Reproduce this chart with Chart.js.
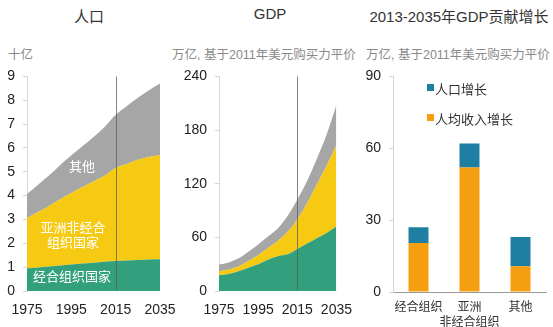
<!DOCTYPE html>
<html><head><meta charset="utf-8">
<script src="https://cdn.jsdelivr.net/npm/chart.js@4"></script>
<style>
html,body{margin:0;padding:0;background:#fff;width:553px;height:327px;overflow:hidden;position:relative;font-family:"Liberation Sans","Noto Sans CJK SC",sans-serif;}
.box{position:absolute;}
.t{position:absolute;white-space:nowrap;}
.title{font-size:15px;color:#333;transform:translateX(-50%);}
.sub{font-size:12.5px;color:#8a8a8a;}
.lab{font-size:13px;color:#fff;text-align:center;transform:translateX(-50%);line-height:15px;}
.lg{font-size:13px;color:#333;}
.sq{position:absolute;width:7px;height:7px;}
</style></head><body>
<div class="t title" style="left:89px;top:5px;">人口</div>
<div class="t title" style="left:270px;top:5px;">GDP</div>
<div class="t title" style="left:459px;top:5px;">2013-2035年GDP贡献增长</div>
<div class="t sub" style="left:8px;top:44px;">十亿</div>
<div class="t sub" style="left:172px;top:44px;">万亿, 基于2011年美元购买力平价</div>
<div class="t sub" style="left:366px;top:44px;">万亿, 基于2011年美元购买力平价</div>

<div class="box" style="left:0;top:60px;width:180px;height:267px;"><canvas id="c1"></canvas></div>
<div class="box" style="left:180px;top:60px;width:175px;height:267px;"><canvas id="c2"></canvas></div>
<div class="box" style="left:355px;top:60px;width:198px;height:267px;"><canvas id="c3"></canvas></div>

<div class="t lab" style="left:82px;top:159px;">其他</div>
<div class="t lab" style="left:73px;top:220px;">亚洲非经合<br>组织国家</div>
<div class="t lab" style="left:72px;top:269px;">经合组织国家</div>

<div class="sq" style="left:427px;top:84px;background:#1f7fa3;"></div>
<div class="t lg" style="left:435px;top:79px;">人口增长</div>
<div class="sq" style="left:427px;top:114px;background:#f59f10;"></div>
<div class="t lg" style="left:435px;top:109px;">人均收入增长</div>

<script>
// ---- data ----
const years = [1975,1980,1985,1990,1995,2000,2005,2010,2015,2020,2025,2030,2035];
const tickYears = [1975,1995,2015,2035];
const markYear = 2015;
const popOECD  = [0.95,0.99,1.03,1.07,1.11,1.15,1.19,1.23,1.26,1.28,1.30,1.32,1.33];
const popAsia  = [2.10,2.32,2.54,2.78,3.00,3.20,3.40,3.60,3.90,4.05,4.20,4.30,4.37];
const popOther = [1.02,1.15,1.28,1.43,1.58,1.72,1.87,2.05,2.23,2.42,2.60,2.80,3.00];
const gdpOECD  = [17.5,19,22,26,30,35,39,41,47,53,59,65,72];
const gdpAsia  = [4.5,5,5.5,7.5,10,13,17,25,33,45,60,75,91];
const gdpOther = [7.5,8,9,10.5,12,13,14,18,22,25,29,35,45];
const regions = ["经合组织", ["亚洲","非经合组织"], "其他"];
const popGrowth = [6.5, 10, 12.3];
const incomeGrowth = [20.5, 52, 10.7];

const C_GREEN='#33a07d', C_YELLOW='#f6c913', C_GREY='#a6a6a6', C_BLUE='#1f7fa3', C_ORANGE='#f59f10';
const FONT = {family:'"Liberation Sans","Noto Sans CJK SC",sans-serif', size:14};
Chart.defaults.color = '#222';

const markLine = {
  id:'markLine',
  afterDatasetsDraw(chart){
    const x = chart.scales.x.getPixelForValue(markYear);
    const a = chart.chartArea, ctx = chart.ctx;
    ctx.save(); ctx.strokeStyle='rgba(90,90,90,0.75)'; ctx.lineWidth=1;
    ctx.beginPath(); ctx.moveTo(Math.round(x)+0.5,a.top); ctx.lineTo(Math.round(x)+0.5,a.bottom); ctx.stroke(); ctx.restore();
  }
};

function area(label, data, color, fill){
  return {label, data: years.map((y,i)=>({x:y,y:data[i]})), backgroundColor:color, borderWidth:0,
          pointRadius:0, fill, cubicInterpolationMode:'monotone'};
}

function areaChart(id, sets, ymax, ystep, yw, padRight){
  return new Chart(document.getElementById(id), {
    type:'line',
    data:{datasets:sets},
    options:{
      responsive:true, maintainAspectRatio:false, animation:false,
      layout:{autoPadding:false, padding:{top:13,right:padRight,bottom:0,left:0}},
      plugins:{legend:{display:false}, tooltip:{enabled:false}},
      scales:{
        x:{type:'linear', min:years[0], max:years[years.length-1],
           afterBuildTicks:s=>{s.ticks = tickYears.map(v=>({value:v}));},
           afterFit:s=>{s.height=36;},
           grid:{display:false}, border:{display:false},
           ticks:{font:FONT, color:'#222', padding:3, maxRotation:0, autoSkip:false, callback:v=>String(v)}},
        y:{stacked:true, min:0, max:ymax,
           afterFit:s=>{s.width=yw;},
           grid:{drawOnChartArea:false, tickLength:4, color:'#d6d6d6'},
           border:{color:'#d6d6d6'},
           ticks:{stepSize:ystep, font:FONT, color:'#222', padding:8}}
      }
    },
    plugins:[markLine]
  });
}

areaChart('c1', [
  area('经合组织国家', popOECD, C_GREEN, 'origin'),
  area('亚洲非经合组织国家', popAsia, C_YELLOW, '-1'),
  area('其他', popOther, C_GREY, '-1')
], 9, 1, 27, 20);

areaChart('c2', [
  area('经合组织', gdpOECD, C_GREEN, 'origin'),
  area('亚洲非经合组织', gdpAsia, C_YELLOW, '-1'),
  area('其他', gdpOther, C_GREY, '-1')
], 240, 60, 39, 18);

new Chart(document.getElementById('c3'), {
  type:'bar',
  data:{labels:regions, datasets:[
    {label:'人均收入增长', data:incomeGrowth, backgroundColor:C_ORANGE, categoryPercentage:0.8, barPercentage:0.49},
    {label:'人口增长', data:popGrowth, backgroundColor:C_BLUE, categoryPercentage:0.8, barPercentage:0.49}
  ]},
  options:{
    responsive:true, maintainAspectRatio:false, animation:false,
    layout:{autoPadding:false, padding:{top:13,right:7,bottom:0,left:0}},
    plugins:{legend:{display:false}, tooltip:{enabled:false}},
    scales:{
      x:{stacked:true, afterFit:s=>{s.height=35;},
         grid:{display:false}, border:{display:true,color:'#9a9a9a'},
         ticks:{font:{family:FONT.family,size:12,lineHeight:1.25}, color:'#333', padding:0, maxRotation:0, autoSkip:false}},
      y:{stacked:true, min:0, max:90, afterFit:s=>{s.width=38;},
         grid:{drawOnChartArea:false, tickLength:4, color:'#d6d6d6'},
         border:{color:'#d6d6d6'},
         ticks:{stepSize:30, font:FONT, color:'#222', padding:8}}
      }
  }
});
</script>
</body></html>
